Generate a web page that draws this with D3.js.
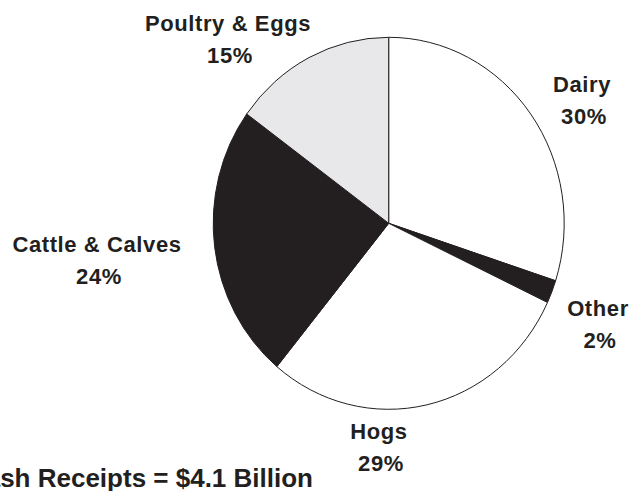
<!DOCTYPE html>
<html>
<head>
<meta charset="utf-8">
<script src="https://cdn.jsdelivr.net/npm/d3@7"></script>
<style>
  html, body { margin: 0; padding: 0; background: #fff; }
  svg { display: block; }
  text { font-family: "Liberation Sans", Arial, sans-serif; font-weight: bold; fill: #231f20; }
</style>
</head>
<body>
<svg id="chart" width="630" height="491"></svg>
<script>
// Livestock cash receipts by commodity (percent of total)
const categories = ["Dairy", "Other", "Hogs", "Cattle & Calves", "Poultry & Eggs"];
const shares = [30, 2, 29, 24, 15];
const totalLabel = "Total Cash Receipts = $4.1 Billion";

// Slice fills, in category order
const palette = ["#ffffff", "#231f20", "#ffffff", "#231f20", "#e8e8ea"];

// Layout
const W = 630, H = 491;
const cx = 388.7, cy = 223.3;
const rx = 175.5, ry = 186;           // pie is drawn slightly taller than wide
const labelAnchors = {                  // label centre x and first-line baseline y
  "Dairy":           [582, 92],
  "Other":           [598, 316],
  "Hogs":            [379, 439],
  "Cattle & Calves": [97, 252],
  "Poultry & Eggs":  [228, 31]
};
const lineGap = 32;

const svg = d3.select("#chart");

const color = d3.scaleOrdinal().domain(categories).range(palette);

const pie = d3.pie()
  .value(d => d.value)
  .sort(null)
  .startAngle(0)
  .endAngle(2 * Math.PI);

const arc = d3.arc().innerRadius(0).outerRadius(rx);

const data = categories.map((c, i) => ({ name: c, value: shares[i] }));
const arcs = pie(data);

const g = svg.append("g")
  .attr("transform", `translate(${cx},${cy}) scale(1,${ry / rx})`);

g.selectAll("path.slice")
  .data(arcs)
  .join("path")
  .attr("class", "slice")
  .attr("d", arc)
  .attr("fill", d => color(d.data.name))
  .attr("stroke", "#231f20")
  .attr("stroke-width", 1)
  .attr("vector-effect", "non-scaling-stroke");

// Category labels: name on the first line, share on the second
const labels = svg.append("g").selectAll("text.label")
  .data(arcs)
  .join("text")
  .attr("class", "label")
  .attr("text-anchor", "middle")
  .style("font-size", "22px")
  .style("letter-spacing", "0.6px");

labels.append("tspan")
  .attr("x", d => labelAnchors[d.data.name][0])
  .attr("y", d => labelAnchors[d.data.name][1])
  .text(d => d.data.name);

labels.append("tspan")
  .attr("x", d => labelAnchors[d.data.name][0] + 2)
  .attr("y", d => labelAnchors[d.data.name][1] + lineGap)
  .text(d => d3.format(".0f")(d.data.value) + "%");

// Total line along the bottom
svg.append("text")
  .attr("x", 313)
  .attr("y", 487)
  .attr("text-anchor", "end")
  .style("font-size", "26px")
  .text(totalLabel);
</script>
</body>
</html>
